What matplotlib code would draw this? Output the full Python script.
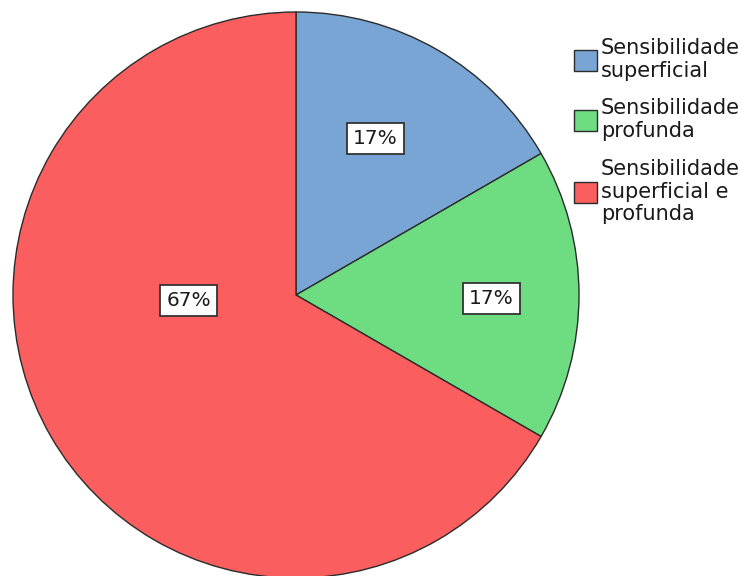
import numpy as np
import matplotlib
matplotlib.use("Agg")
import matplotlib.pyplot as plt

categories = ["Sensibilidade\nsuperficial",
              "Sensibilidade\nprofunda",
              "Sensibilidade\nsuperficial e\nprofunda"]
counts = [1, 1, 4]
pct_labels = ["17%", "17%", "67%"]
colors = ["#79a5d5", "#6edc81", "#fa5e5e"]

plt.rcParams["font.family"] = ["Liberation Sans Narrow", "DejaVu Sans"]

W, H = 742, 576
fig = plt.figure(figsize=(W / 100, H / 100), dpi=100)
fig.patch.set_facecolor("white")
ax = fig.add_axes([0, 0, 1, 1])

cx, cy, r = 296, H - 295, 283
wedges, _ = ax.pie(counts, colors=colors, startangle=90, counterclock=False,
                   center=(cx, cy), radius=r, frame=True,
                   wedgeprops=dict(edgecolor="#2b2b2b", linewidth=1))
ax.set_xlim(0, W)
ax.set_ylim(0, H)
ax.set_aspect("equal")
ax.axis("off")

# label placement (polar, relative to pie centre): angle in deg, fraction of radius
label_angle = [63, -1, 183]
label_frac = [0.62, 0.69, 0.38]
for txt, a, f in zip(pct_labels, label_angle, label_frac):
    x = cx + f * r * np.cos(np.deg2rad(a))
    y = cy + f * r * np.sin(np.deg2rad(a))
    ax.text(x, y, txt, ha="center", va="center", fontsize=14.5,
            color="#1a1a1a",
            bbox=dict(boxstyle="square,pad=0.3", facecolor="white",
                      edgecolor="#333333", linewidth=1.3))

leg = ax.legend(wedges, categories, loc="upper left",
                bbox_to_anchor=(574 / W, 1 - 38 / H),
                frameon=False, fontsize=15, handlelength=1.1,
                handleheight=1.2, handletextpad=0.2, labelspacing=0.85,
                borderaxespad=0, borderpad=0)
for t in leg.get_texts():
    t.set_linespacing(1.17)
    t.set_color("#1a1a1a")

fig.savefig("out.png", dpi=100)
